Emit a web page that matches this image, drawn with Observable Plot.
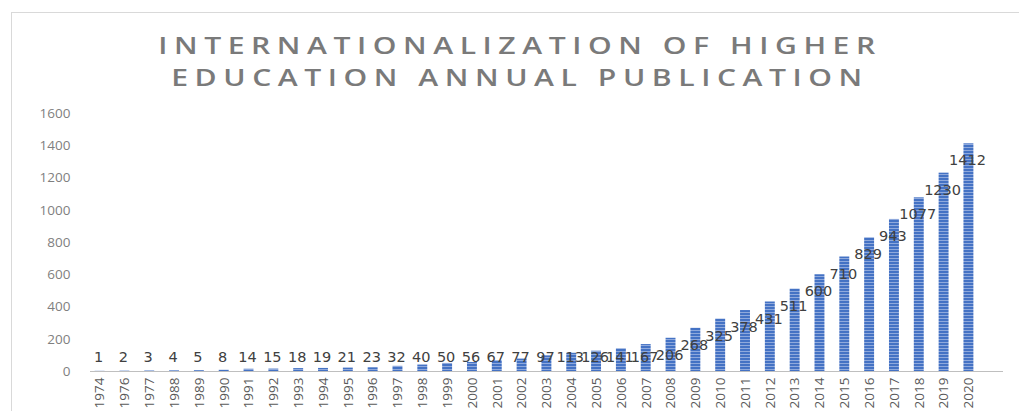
<!DOCTYPE html>
<html>
<head>
<meta charset="utf-8">
<script src="https://cdn.jsdelivr.net/npm/d3@7"></script>
<script src="https://cdn.jsdelivr.net/npm/@observablehq/plot@0.6"></script>
<style>
  html, body { margin: 0; padding: 0; background: #fff; width: 1019px; height: 411px; overflow: hidden; }
  #frame { position: absolute; left: 11px; top: 12px; width: 1040px; height: 440px; border: 1px solid #d9d9d9; box-sizing: border-box; }
  .tl { position: absolute; left: 0; width: 1040px; text-align: center; white-space: nowrap;
    font-family: "Open Sans", "DejaVu Sans", sans-serif; font-weight: 600; font-size: 23px; line-height: 30px;
    letter-spacing: 5px; color: #7a7a7a; transform: scaleX(1.31); transform-origin: 520px 0; }
  #t1 { top: 30px; }
  #t2 { top: 62px; }
  #chart { position: absolute; left: 0; top: 100px; }
</style>
</head>
<body>
<div id="frame"></div>
<div class="tl" id="t1">INTERNATIONALIZATION OF HIGHER</div>
<div class="tl" id="t2">EDUCATION ANNUAL PUBLICATION</div>
<div id="chart"></div>
<script>
const years = ["1974","1976","1977","1988","1989","1990","1991","1992","1993","1994","1995","1996","1997","1998","1999","2000","2001","2002","2003","2004","2005","2006","2007","2008","2009","2010","2011","2012","2013","2014","2015","2016","2017","2018","2019","2020"];
const counts = [1,2,3,4,5,8,14,15,18,19,21,23,32,40,50,56,67,77,97,113,126,141,167,206,268,325,378,431,511,600,710,829,943,1077,1230,1412];
const yTicks = [0,200,400,600,800,1000,1200,1400,1600];

const data = years.map((y, i) => ({year: y, value: counts[i]}));
const labelFloor = 192; // labels never sit lower than this level (in data units)

const chart = Plot.plot({
  width: 1019,
  height: 320,
  marginTop: 13,
  marginBottom: 49,
  marginLeft: 76,
  marginRight: 27,
  style: {fontFamily: "Open Sans, DejaVu Sans, sans-serif", background: "transparent"},
  x: {domain: years, paddingInner: 0.6, paddingOuter: 0.75, round: false, label: null, tickSize: 0, tickRotate: -90, tickPadding: 6},
  y: {domain: [0, 1600], ticks: yTicks, tickFormat: d => String(d), label: null, tickSize: 0, tickPadding: 6},
  marks: [
    Plot.barY(data, {x: "year", y: "value", fill: "url(#stripes)"}),
    Plot.ruleY([0], {stroke: "#bfbfbf", strokeWidth: 1.2, insetLeft: 14, insetRight: -11}),
    Plot.text(data, {x: "year", y: d => Math.max(d.value, labelFloor), text: d => String(d.value), dy: 17, dx: -1.5,
      fill: "#404040", fontSize: 14.5, fontFamily: "DejaVu Sans, sans-serif", letterSpacing: 3})
  ]
});

// stripe pattern for the bars
const svgNS = "http://www.w3.org/2000/svg";
const defs = document.createElementNS(svgNS, "defs");
defs.innerHTML = `<pattern id="stripes" patternUnits="userSpaceOnUse" width="4" height="3">
  <rect width="4" height="3" fill="#4472c4"/>
  <rect y="2" width="4" height="1" fill="#8fa9dc"/>
</pattern>`;
chart.insertBefore(defs, chart.firstChild);

chart.querySelectorAll("[aria-label='y-axis tick label'] text").forEach(t => { t.setAttribute("fill", "#7f7f7f"); t.style.fontSize = "13.5px"; });
chart.querySelectorAll("[aria-label='x-axis tick label'] text").forEach(t => { t.setAttribute("fill", "#595959"); t.style.fontSize = "13.5px"; });
document.getElementById("chart").appendChild(chart);
</script>
</body>
</html>
